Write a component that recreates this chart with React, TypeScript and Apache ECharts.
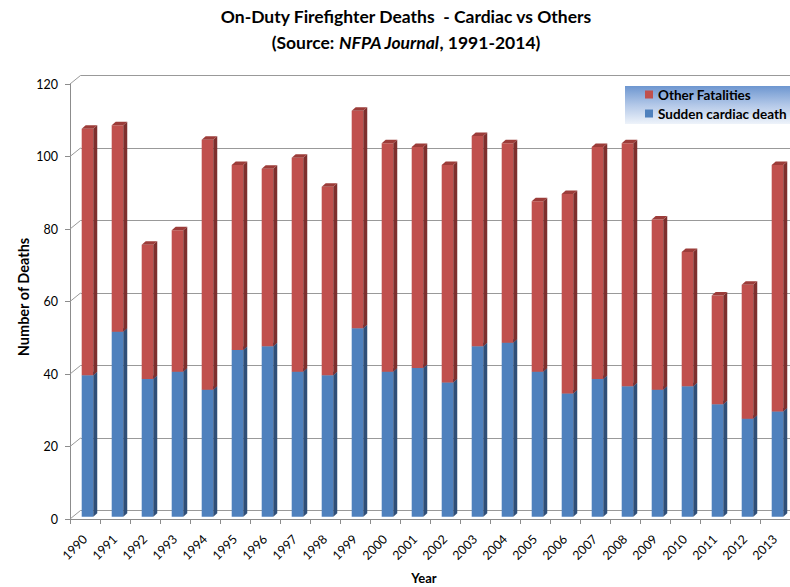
import React, { useEffect, useRef } from "react";
import * as echarts from "echarts";

const years = ["1990","1991","1992","1993","1994","1995","1996","1997","1998","1999","2000","2001","2002","2003","2004","2005","2006","2007","2008","2009","2010","2011","2012","2013"];
const cardiac = [39,51,38,40,35,46,47,40,39,52,40,41,37,47,48,40,34,38,36,35,36,31,27,29];
const others = [68,57,37,39,69,51,49,59,52,60,63,61,60,58,55,47,55,64,67,47,37,30,37,68];
const yTicks = [0,20,40,60,80,100,120];

const FONT = "Lato";

function makeBarRender(front: string, side: string, cap: string) {
  return (params: any, api: any) => {
    const i = api.value(0);
    const b = api.coord([i, api.value(1)]);
    const t = api.coord([i, api.value(2)]);
    const bw = api.size([1, 0])[0];
    const fx = b[0] - bw * 0.11;
    const fw = bw * 0.385;
    const oy = -2.3;
    const dx = 4, dy = -3.5;
    const yb = b[1] + oy;
    const yt = t[1] + oy;
    return {
      type: "group",
      children: [
        { type: "rect", shape: { x: fx, y: yt, width: fw, height: yb - yt }, style: { fill: front } },
        { type: "polygon", shape: { points: [[fx + fw, yb], [fx + fw + dx, yb + dy], [fx + fw + dx, yt + dy], [fx + fw, yt]] }, style: { fill: side } },
        { type: "polygon", shape: { points: [[fx, yt], [fx + dx, yt + dy], [fx + fw + dx, yt + dy], [fx + fw, yt]] }, style: { fill: cap } },
      ],
    };
  };
}

export default function App() {
  const ref = useRef<HTMLDivElement>(null);
  useEffect(() => {
    if (!ref.current) return;
    const chart = echarts.init(ref.current, null, { renderer: "svg" });
    const frontGrid = { left: 70, top: 84, width: 724, height: 435 };
    const backGrid = { left: 80.5, top: 75.5, width: 724, height: 435 };
    const option: any = {
      animation: false,
      backgroundColor: "#ffffff",
      textStyle: { fontFamily: FONT },
      grid: [frontGrid, backGrid],
      xAxis: [
        {
          type: "category", gridIndex: 0, data: years, boundaryGap: true,
          axisLine: { show: true, lineStyle: { color: "#8c8c8c" } },
          axisTick: { show: true, length: 5, lineStyle: { color: "#8c8c8c" } },
          axisLabel: { rotate: 45, fontSize: 12.5, color: "#000", fontFamily: FONT, margin: 18 },
        },
        { type: "category", gridIndex: 1, data: years, show: false },
      ],
      yAxis: [
        {
          type: "value", gridIndex: 0, min: 0, max: 120, interval: 20,
          axisLine: { show: true, lineStyle: { color: "#8c8c8c" } },
          axisTick: { show: true, length: 5, lineStyle: { color: "#8c8c8c" } },
          axisLabel: { fontSize: 12.5, color: "#000", fontFamily: FONT, margin: 12 },
          splitLine: { show: false },
        },
        {
          type: "value", gridIndex: 1, min: 0, max: 120, interval: 20,
          axisLine: { show: false }, axisTick: { show: false }, axisLabel: { show: false },
          splitLine: { show: true, lineStyle: { color: "#999999", width: 1 } },
        },
      ],
      legend: {
        orient: "vertical", left: 645, top: 87, itemWidth: 8, itemHeight: 8, itemGap: 4,
        icon: "rect", padding: 0, z: 10,
        data: ["Other Fatalities", "Sudden cardiac death"],
        textStyle: { fontFamily: FONT, fontWeight: "bold", fontSize: 13.5, color: "#000", lineHeight: 15 },
      },
      graphic: [
        {
          type: "rect", z: 1, shape: { x: 625, y: 86, width: 175, height: 38 },
          style: {
            fill: new echarts.graphic.LinearGradient(0, 0, 0, 1, [
              { offset: 0, color: "#6d96d0" },
              { offset: 0.5, color: "#b3c8e8" },
              { offset: 1, color: "#eef3fa" },
            ]),
          },
        },
        {
          type: "text", x: 406, y: 16,
          style: { text: "On-Duty Firefighter Deaths  - Cardiac vs Others", fontFamily: FONT, fontWeight: "bold", fontSize: 17.5, fill: "#000", textAlign: "center", textVerticalAlign: "middle" },
        },
        {
          type: "text", x: 406, y: 42,
          style: {
            text: "{a|(Source: }{i|NFPA Journal}{a|, 1991-2014)}",
            textAlign: "center", textVerticalAlign: "middle",
            rich: {
              a: { fontFamily: FONT, fontWeight: "bold", fontSize: 17.5, fill: "#000" },
              i: { fontFamily: FONT, fontWeight: "bold", fontStyle: "italic", fontSize: 17.5, fill: "#000" },
            },
          },
        },
        {
          type: "text", x: 23, y: 297, rotation: Math.PI / 2,
          style: { text: "Number of Deaths", fontFamily: FONT, fontWeight: "bold", fontSize: 14.5, fill: "#000", textAlign: "center", textVerticalAlign: "middle" },
        },
        {
          type: "text", x: 424, y: 578,
          style: { text: "Year", fontFamily: FONT, fontWeight: "bold", fontSize: 13, fill: "#000", textAlign: "center", textVerticalAlign: "middle" },
        },
      ],
      series: [
        {
          type: "custom", name: "wall", xAxisIndex: 0, yAxisIndex: 0, silent: true,
          data: yTicks.map((v) => [0, v]),
          encode: { x: 0, y: 1 },
          renderItem: (params: any, api: any) => {
            const p = api.coord([0, api.value(1)]);
            const x0 = params.coordSys.x;
            return { type: "line", shape: { x1: x0, y1: p[1], x2: x0 + 10.5, y2: p[1] - 8.5 }, style: { stroke: "#999999", lineWidth: 1 } };
          },
          z: 1,
        },
        {
          type: "custom", name: "Sudden cardiac death", xAxisIndex: 0, yAxisIndex: 0,
          itemStyle: { color: "#4F81BD" },
          data: cardiac.map((v, i) => [i, 0, v]),
          encode: { x: 0, y: [1, 2] },
          renderItem: makeBarRender("#4F81BD", "#2f4f78", "#3a6399"),
          z: 3,
        },
        {
          type: "custom", name: "Other Fatalities", xAxisIndex: 0, yAxisIndex: 0,
          itemStyle: { color: "#C0504D" },
          data: others.map((v, i) => [i, cardiac[i], cardiac[i] + v]),
          encode: { x: 0, y: [1, 2] },
          renderItem: makeBarRender("#C0504D", "#7e2f2d", "#9c3c39"),
          z: 4,
        },
      ],
    };
    chart.setOption(option);
    return () => chart.dispose();
  }, []);
  return <div ref={ref} style={{ position: "absolute", left: 0, top: 0, width: 790, height: 587 }} />;
}
